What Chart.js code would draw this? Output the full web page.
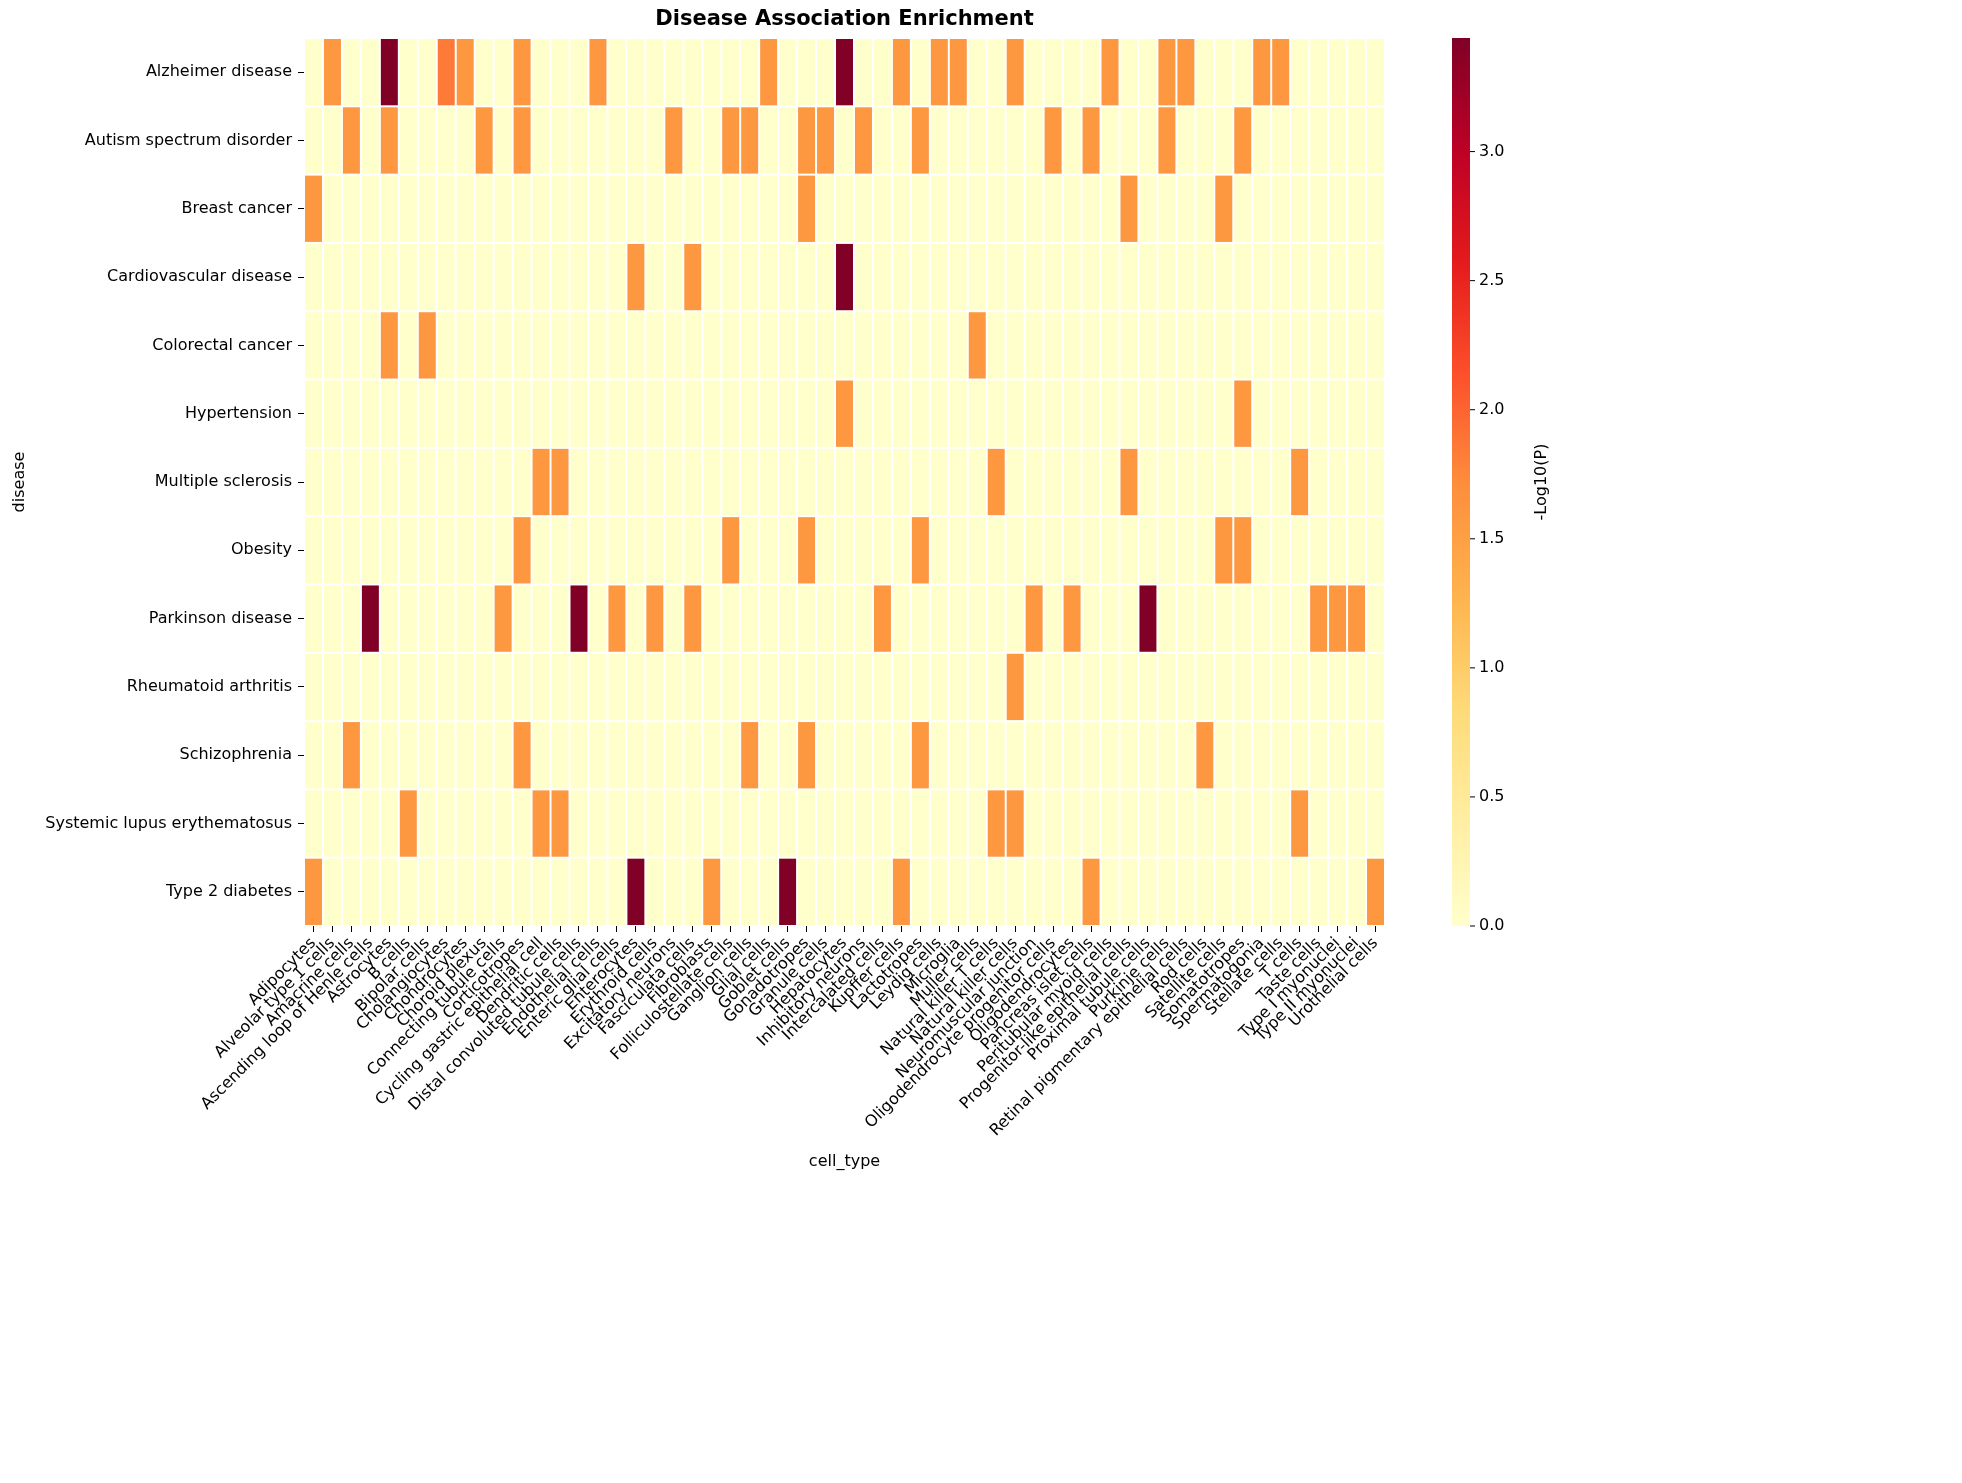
<!DOCTYPE html>
<html><head><meta charset="utf-8">
<script src="https://cdn.jsdelivr.net/npm/chart.js@4/dist/chart.umd.min.js"></script>
<style>body{margin:0;background:#fff}#w{width:1962px;height:1483px}</style>
</head><body><div id="w"><canvas id="c"></canvas></div>
<script>
const cellTypes=["Adipocytes","Alveolar type 1 cells","Amacrine cells","Ascending loop of Henle cells","Astrocytes","B cells","Bipolar cells","Cholangiocytes","Chondrocytes","Choroid plexus","Connecting tubule cells","Corticotropes","Cycling gastric epithelial cell","Dendritic cells","Distal convoluted tubule cells","Endothelial cells","Enteric glial cells","Enterocytes","Erythroid cells","Excitatory neurons","Fasciculata cells","Fibroblasts","Folliculostellate cells","Ganglion cells","Glial cells","Goblet cells","Gonadotropes","Granule cells","Hepatocytes","Inhibitory neurons","Intercalated cells","Kupffer cells","Lactotropes","Leydig cells","Microglia","Muller cells","Natural killer T cells","Natural killer cells","Neuromuscular junction","Oligodendrocyte progenitor cells","Oligodendrocytes","Pancreas islet cells","Peritubular myoid cells","Progenitor-like epithelial cells","Proximal tubule cells","Purkinje cells","Retinal pigmentary epithelial cells","Rod cells","Satellite cells","Somatotropes","Spermatogonia","Stellate cells","T cells","Taste cells","Type I myonuclei","Type II myonuclei","Urothelial cells"];
const diseases=["Alzheimer disease","Autism spectrum disorder","Breast cancer","Cardiovascular disease","Colorectal cancer","Hypertension","Multiple sclerosis","Obesity","Parkinson disease","Rheumatoid arthritis","Schizophrenia","Systemic lupus erythematosus","Type 2 diabetes"];
// enriched cells per disease: [cellIndex, -log10(P)]
const alzheimer=[[1,1.6],[4,3.44],[7,1.85],[8,1.6],[11,1.6],[15,1.6],[24,1.6],[28,3.44],[31,1.6],[33,1.6],[34,1.6],[37,1.6],[42,1.6],[45,1.6],[46,1.6],[50,1.6],[51,1.6]];
const autism=[[2,1.6],[4,1.6],[9,1.6],[11,1.6],[19,1.6],[22,1.6],[23,1.6],[26,1.6],[27,1.6],[29,1.6],[32,1.6],[39,1.6],[41,1.6],[45,1.6],[49,1.6]];
const breast=[[0,1.6],[26,1.6],[43,1.6],[48,1.6]];
const cardio=[[17,1.6],[20,1.6],[28,3.44]];
const colorectal=[[4,1.6],[6,1.6],[35,1.6]];
const hypertension=[[28,1.6],[49,1.6]];
const ms=[[12,1.6],[13,1.6],[36,1.6],[43,1.6],[52,1.6]];
const obesity=[[11,1.6],[22,1.6],[26,1.6],[32,1.6],[48,1.6],[49,1.6]];
const parkinson=[[3,3.44],[10,1.6],[14,3.44],[16,1.6],[18,1.6],[20,1.6],[30,1.6],[38,1.6],[40,1.6],[44,3.44],[53,1.6],[54,1.6],[55,1.6]];
const ra=[[37,1.6]];
const schizo=[[2,1.6],[11,1.6],[23,1.6],[26,1.6],[32,1.6],[47,1.6]];
const sle=[[5,1.6],[12,1.6],[13,1.6],[36,1.6],[37,1.6],[52,1.6]];
const t2d=[[0,1.6],[17,3.44],[21,1.6],[25,3.44],[31,1.6],[41,1.6],[56,1.6]];
const rows=[alzheimer,autism,breast,cardio,colorectal,hypertension,ms,obesity,parkinson,ra,schizo,sle,t2d];
const vmax=3.44;
const cbTicks=[0,0.5,1.0,1.5,2.0,2.5,3.0];

const stops=["#ffffcc","#ffeda0","#fed976","#feb24c","#fd8d3c","#fc4e2a","#e31a1c","#bd0026","#800026"];
function hex(h){return [1,3,5].map(i=>parseInt(h.substr(i,2),16));}
function cmap(t){t=Math.max(0,Math.min(1,t));const p=t*8,i=Math.min(7,Math.floor(p)),f=p-i;const a=hex(stops[i]),b=hex(stops[i+1]);return `rgb(${a.map((v,k)=>Math.round(v+(b[k]-v)*f)).join(',')})`;}

const points=[];
rows.forEach((r,ri)=>{cellTypes.forEach((c,ci)=>{const e=r.find(q=>q[0]===ci);points.push({x:c,y:diseases[ri],v:e?e[1]:0});});});

const F='"DejaVu Sans"';
const heat={id:'heat',beforeDatasetsDraw(ch){
  const {ctx,scales:{x,y}}=ch;const dx=x.getPixelForValue(1)-x.getPixelForValue(0);const dy=y.getPixelForValue(1)-y.getPixelForValue(0);
  points.forEach(p=>{const cx=x.getPixelForValue(cellTypes.indexOf(p.x)),cy=y.getPixelForValue(diseases.indexOf(p.y));
    ctx.fillStyle=cmap(p.v/vmax);ctx.fillRect(cx-dx/2+1,cy-dy/2+1,dx-2,dy-2);});
},afterDraw(ch){
  const {ctx,chartArea:a}=ch;ctx.save();
  ctx.fillStyle='#000';ctx.font='bold 21px '+F;ctx.textAlign='center';ctx.textBaseline='middle';
  ctx.fillText('Disease Association Enrichment',(a.left+a.right)/2,20);
  ctx.font='16px '+F;ctx.fillText('cell_type',(a.left+a.right)/2,1162);
  ctx.translate(20,(a.top+a.bottom)/2);ctx.rotate(-Math.PI/2);ctx.fillText('disease',0,0);ctx.restore();
  // colorbar
  const bx=1452,bw=18,top=a.top,bot=a.bottom;ctx.save();
  const g=ctx.createLinearGradient(0,bot,0,top);for(let i=0;i<=40;i++)g.addColorStop(i/40,cmap(i/40));
  ctx.fillStyle=g;ctx.fillRect(bx,top,bw,bot-top);
  ctx.font='16px '+F;ctx.fillStyle='#000';ctx.strokeStyle='#000';ctx.lineWidth=1;ctx.textAlign='left';ctx.textBaseline='middle';
  cbTicks.forEach(t=>{const yy=bot-(bot-top)*t/vmax;ctx.beginPath();ctx.moveTo(bx+bw,yy);ctx.lineTo(bx+bw+5,yy);ctx.stroke();ctx.fillText(t.toFixed(1),bx+bw+9,yy);});
  ctx.translate(1542,(top+bot)/2);ctx.rotate(-Math.PI/2);ctx.textAlign='center';ctx.fillText('-Log10(P)',0,0);ctx.restore();
}};
new Chart(document.getElementById('c'),{type:'scatter',data:{datasets:[{data:[],pointRadius:0}]},
options:{responsive:true,maintainAspectRatio:false,animation:false,
layout:{padding:{top:38,right:577,left:0,bottom:0}},
plugins:{legend:{display:false},tooltip:{enabled:false}},
scales:{
 x:{type:'category',labels:cellTypes,offset:true,grid:{display:true,drawOnChartArea:false,tickLength:6,color:'#000'},border:{display:false},
   ticks:{minRotation:45,maxRotation:45,autoSkip:false,color:'#000',font:{family:F,size:16},padding:2},
   afterFit(s){s.height=557;}},
 y:{type:'category',labels:diseases,offset:true,grid:{display:true,drawOnChartArea:false,tickLength:6,color:'#000'},border:{display:false},
   ticks:{autoSkip:false,color:'#000',font:{family:F,size:16},padding:6},
   afterFit(s){s.width=304;}}
}},plugins:[heat]});
</script></body></html>
